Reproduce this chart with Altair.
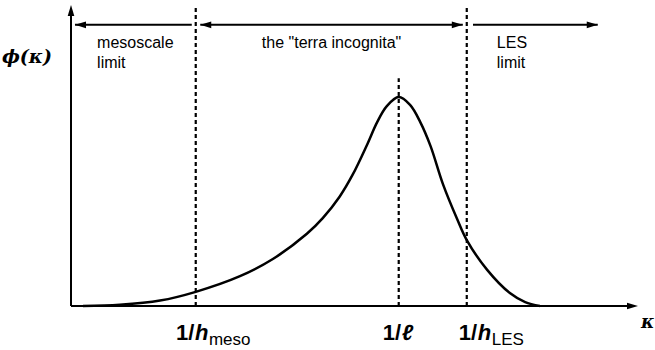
import altair as alt
import pandas as pd

# Spectrum phi(kappa); kappa in arbitrary wavenumber units (axis runs 0..10), phi normalised (0..1)
kappa = [0.21, 0.86, 1.57, 2.20, 2.98, 3.56, 4.16, 4.44, 4.74, 4.97, 5.22, 5.40,
         5.57, 5.78, 5.98, 6.16, 6.34, 6.56, 6.81, 6.98, 7.34, 7.74, 8.01, 8.27]
phi = [0.0, 0.004, 0.018, 0.047, 0.099, 0.156, 0.240, 0.292, 0.364, 0.437, 0.535, 0.611,
       0.664, 0.694, 0.668, 0.611, 0.532, 0.405, 0.289, 0.219, 0.120, 0.043, 0.013, 0.0]

# Characteristic wavenumbers 1/h_meso, 1/l, 1/h_LES
marker_kappa = [2.20, 5.78, 6.98]
marker_top = [0.99, 0.757, 0.99]
marker_label_start = [1.85, 5.50, 6.84]
marker_main = ["h", "ℓ", "h"]
marker_sub = ["meso", "", "LES"]

# Regimes along the top of the plot
region_text = ["mesoscale\nlimit", 'the "terra incognita"', "LES\nlimit"]
region_from = [2.13, 2.28, 7.09]
region_to = [0.07, 6.91, 9.29]
region_label_kappa = [0.46, 4.595, 7.51]
region_align = ["left", "center", "left"]
region_level = 0.934

# Arrowheads: tip position and direction
head_kappa = [0.07, 2.28, 6.91, 9.29, 10.0, 0.0]
head_phi = [region_level, region_level, region_level, region_level, 0.0, 1.0]
head_dir = ["left", "left", "right", "right", "right", "up"]

ARROW_PATHS = {
    "left": "M0,0L2,-0.6L2,0.6Z",
    "right": "M0,0L-2,-0.6L-2,0.6Z",
    "up": "M0,0L-0.6,2L0.6,2Z",
}

curve_df = pd.DataFrame({"kappa": kappa, "phi": phi})
markers_df = pd.DataFrame({
    "kappa": marker_kappa, "top": marker_top, "start": marker_label_start,
    "main": marker_main, "sub": marker_sub,
})
regions_df = pd.DataFrame({
    "text": region_text, "from": region_from, "to": region_to,
    "label": region_label_kappa, "align": region_align,
})
regions_df["level"] = region_level
heads_df = pd.DataFrame({"kappa": head_kappa, "phi": head_phi, "dir": head_dir})
heads_df["path"] = heads_df["dir"].map(ARROW_PATHS)

xs = alt.Scale(domain=[0, 10], nice=False, zero=False)
ys = alt.Scale(domain=[0, 1], nice=False, zero=False)

def X(field):
    return alt.X(field, type="quantitative", scale=xs, axis=None)

def Y(field):
    return alt.Y(field, type="quantitative", scale=ys, axis=None)

axes_df = pd.DataFrame({"x0": [0.0, 0.0], "x1": [9.9, 0.0], "y0": [0.0, 0.0], "y1": [0.0, 0.98]})
axes = alt.Chart(axes_df).mark_rule(color="black", strokeWidth=2).encode(
    x=X("x0"), x2="x1", y=Y("y0"), y2="y1"
)

curve = alt.Chart(curve_df).mark_line(
    color="black", strokeWidth=2.5, interpolate="catmull-rom"
).encode(x=X("kappa"), y=Y("phi"))

dashes = alt.Chart(markers_df).mark_rule(
    color="black", strokeWidth=2.2, strokeDash=[4, 3]
).encode(x=X("kappa"), y=alt.Y("zero:Q", scale=ys, axis=None), y2="top").transform_calculate(zero="0")

spans = alt.Chart(regions_df).mark_rule(color="black", strokeWidth=2).encode(
    x=X("from"), x2="to", y=Y("level")
)

heads = alt.Chart(heads_df).mark_point(
    filled=True, color="black", opacity=1, size=121, strokeWidth=0
).encode(x=X("kappa"), y=Y("phi"), shape=alt.Shape("path:N", scale=None))

region_base = alt.Chart(regions_df).transform_calculate(ty="0.857")
region_left = region_base.transform_filter(alt.datum.align == "left").mark_text(
    align="left", baseline="alphabetic", font="Liberation Sans", fontSize=16,
    lineBreak="\n", lineHeight=20, color="black"
).encode(x=X("label"), y=Y("ty:Q"), text="text:N")
region_center = region_base.transform_filter(alt.datum.align == "center").mark_text(
    align="center", baseline="alphabetic", font="Liberation Sans", fontSize=16,
    lineBreak="\n", lineHeight=20, color="black"
).encode(x=X("label"), y=Y("ty:Q"), text="text:N")

label_base = alt.Chart(markers_df).transform_calculate(zero="0")
one_over = label_base.mark_text(
    align="left", baseline="alphabetic", font="Liberation Sans", fontWeight="bold",
    fontSize=22, dy=34, color="black"
).encode(x=X("start"), y=Y("zero:Q"), text=alt.value("1/"))
main_sym = label_base.mark_text(
    align="left", baseline="alphabetic", font="Liberation Sans", fontWeight="bold",
    fontStyle="italic", fontSize=22, dx=19, dy=34, color="black"
).encode(x=X("start"), y=Y("zero:Q"), text="main:N")
sub_sym = label_base.mark_text(
    align="left", baseline="alphabetic", font="Liberation Sans",
    fontSize=17, dx=33, dy=39, color="black"
).encode(x=X("start"), y=Y("zero:Q"), text="sub:N")

axis_titles_df = pd.DataFrame({"kappa": [0.0, 10.0], "phi": [0.807, 0.0], "text": ["ϕ(κ)", "κ"]})
y_title = alt.Chart(axis_titles_df).transform_filter(alt.datum.kappa == 0).mark_text(
    align="right", baseline="alphabetic", font="DejaVu Serif", fontWeight="bold",
    fontStyle="italic", fontSize=19, dx=-19, color="black"
).encode(x=X("kappa"), y=Y("phi"), text="text:N")
x_title = alt.Chart(axis_titles_df).transform_filter(alt.datum.kappa == 10).mark_text(
    align="left", baseline="alphabetic", font="DejaVu Serif", fontWeight="bold",
    fontStyle="italic", fontSize=18, dx=3, dy=22, color="black"
).encode(x=X("kappa"), y=Y("phi"), text="text:N")

chart = alt.layer(
    axes, dashes, curve, spans, heads, region_left, region_center,
    one_over, main_sym, sub_sym, y_title, x_title
).properties(
    width=567, height=301,
    autosize=alt.AutoSizeParams(type="none"),
    padding={"left": 71, "top": 5, "right": 17, "bottom": 44},
    background="white",
).configure_view(stroke=None)

chart.save("out.html", embed_options={"renderer": "svg", "actions": False})
